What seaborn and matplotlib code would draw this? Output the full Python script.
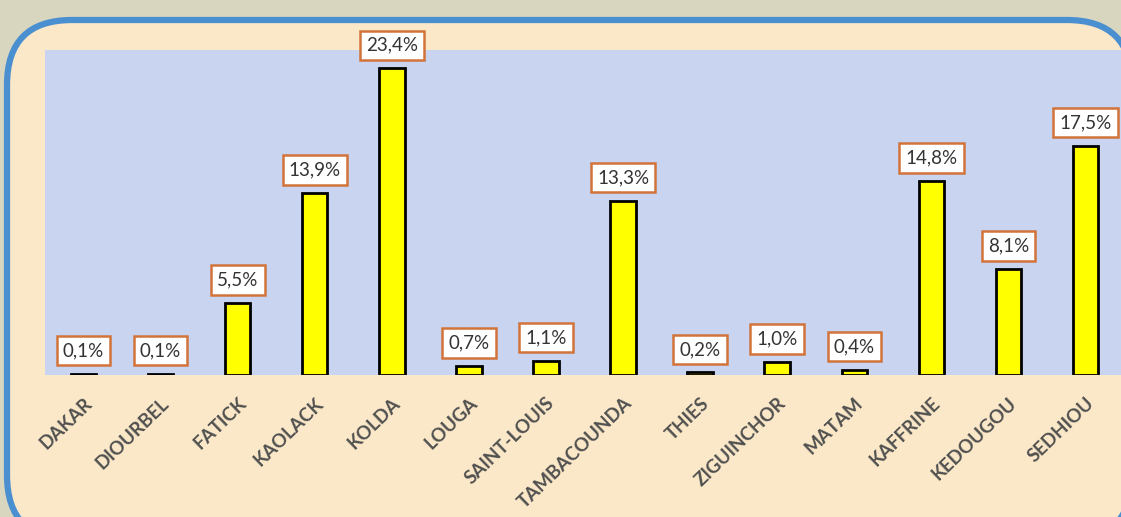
import matplotlib
matplotlib.use("Agg")
import matplotlib.pyplot as plt
from matplotlib.patches import FancyBboxPatch
import seaborn as sns

# data
regions = ["DAKAR", "DIOURBEL", "FATICK", "KAOLACK", "KOLDA", "LOUGA", "SAINT-LOUIS",
           "TAMBACOUNDA", "THIES", "ZIGUINCHOR", "MATAM", "KAFFRINE", "KEDOUGOU", "SEDHIOU"]
shares = [0.1, 0.1, 5.5, 13.9, 23.4, 0.7, 1.1, 13.3, 0.2, 1.0, 0.4, 14.8, 8.1, 17.5]
share_labels = [f"{v:.1f}%".replace(".", ",") for v in shares]

sns.set_style("white")
plt.rcParams["font.family"] = ["Lato", "DejaVu Sans"]

W, H = 1121, 517
fig = plt.figure(figsize=(W / 100, H / 100), dpi=100)
fig.patch.set_facecolor("#d9d6c0")

# background frame drawn in pixel coordinates
bg = fig.add_axes([0, 0, 1, 1])
bg.set_xlim(0, W)
bg.set_ylim(H, 0)
bg.axis("off")
frame = FancyBboxPatch((7, 20), 1125, 520, boxstyle="round,pad=0,rounding_size=65",
                       facecolor="#fbe8c8", edgecolor="#4a8fd0", linewidth=4.5)
bg.add_patch(frame)

ax = fig.add_axes([45 / W, (H - 375) / H, 1079 / W, 325 / H])
ax.set_facecolor("#c9d5f0")
sns.barplot(x=regions, y=shares, color="#ffff00", edgecolor="black", linewidth=2,
            width=0.33, saturation=1, ax=ax)

for i, (v, lab) in enumerate(zip(shares, share_labels)):
    ax.annotate(lab, (i, v), xytext=(0, 23), textcoords="offset pixels",
                ha="center", va="center", fontsize=13.5, color="#333333",
                bbox=dict(boxstyle="square,pad=0.33", facecolor="white",
                          edgecolor="#d2733a", linewidth=1.8))

ax.set_xlim(-0.5, 13.5)
ax.set_ylim(0, 24.8)
ax.set_yticks([])
ax.set_xlabel("")
ax.set_ylabel("")
for s in ax.spines.values():
    s.set_visible(False)
ax.tick_params(axis="x", length=0, pad=14)
plt.setp(ax.get_xticklabels(), rotation=44, ha="right", rotation_mode="anchor",
         fontsize=13.5, fontweight="bold", color="#505050")

fig.savefig("out.png", dpi=100, facecolor=fig.get_facecolor())
